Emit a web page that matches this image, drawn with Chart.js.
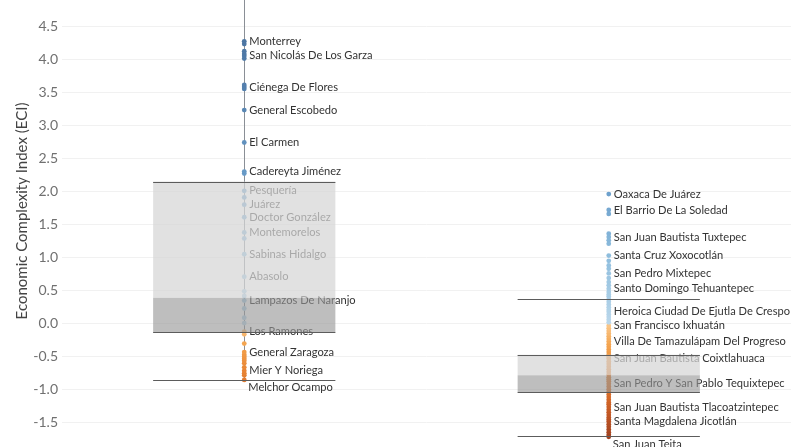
<!DOCTYPE html>
<html>
<head>
<meta charset="utf-8">
<script src="https://cdn.jsdelivr.net/npm/chart.js@4.4.1/dist/chart.umd.min.js"></script>
<style>
  html, body { margin: 0; padding: 0; background: #fff; overflow: hidden; width: 795px; height: 447px; }
  #wrap { position: absolute; left: 0; top: -44px; width: 795px; height: 537px; }
</style>
</head>
<body>
<div id="wrap"><canvas id="ecichart"></canvas></div>
<script>
// Nuevo León (column 1) - labelled municipalities and the remaining points
const nlNames = ['Apodaca', 'Monterrey', 'San Nicolás De Los Garza', 'Ciénega De Flores', 'General Escobedo',
    'El Carmen', 'Cadereyta Jiménez', 'Pesquería', 'Juárez', 'Doctor González', 'Montemorelos',
    'Sabinas Hidalgo', 'Abasolo', 'Lampazos De Naranjo', 'Los Ramones', 'General Zaragoza',
    'Mier Y Noriega', 'Melchor Ocampo'];
const nlValues = [4.98, 4.27, 4.05, 3.58, 3.23, 2.74, 2.30, 2.01, 1.80, 1.61, 1.38, 1.05, 0.71, 0.35,
    -0.12, -0.43, -0.71, -0.85];
const nlOther = [4.23, 4.12, 4.08, 4.01, 3.61, 3.55, 2.27, 1.91, 1.29, 0.49, 0.42, 0.23, 0.09, 0.01,
    -0.16, -0.30, -0.47, -0.50, -0.53, -0.56, -0.60, -0.66, -0.75, -0.78];

// Oaxaca (column 2)
const oaxNames = ['Oaxaca De Juárez', 'El Barrio De La Soledad', 'San Juan Bautista Tuxtepec',
    'Santa Cruz Xoxocotlán', 'San Pedro Mixtepec', 'Santo Domingo Tehuantepec',
    'Heroica Ciudad De Ejutla De Crespo', 'San Francisco Ixhuatán', 'Villa De Tamazulápam Del Progreso',
    'San Juan Bautista Coixtlahuaca', 'San Pedro Y San Pablo Tequixtepec',
    'San Juan Bautista Tlacoatzintepec', 'Santa Magdalena Jicotlán', 'San Juan Teita'];
const oaxValues = [1.96, 1.72, 1.31, 1.03, 0.76, 0.53, 0.18, -0.03, -0.27, -0.53, -0.91, -1.26, -1.48, -1.71];
const oaxOther = [1.66, 1.36, 1.26, 1.21, 0.95, 0.88, 0.83, 0.69, 0.63, 0.58, 0.48, 0.44, 0.41, 0.37,
    0.33, 0.29, 0.25, 0.21, 0.14, 0.10, 0.06, 0.02, -0.07, -0.11, -0.15, -0.19, -0.23, -0.31, -0.35,
    -0.39, -0.43, -0.47, -0.50, -0.57, -0.61, -0.65, -0.69, -0.73, -0.77, -0.81, -0.84, -0.87, -0.95,
    -0.99, -1.03, -1.07, -1.11, -1.15, -1.19, -1.22, -1.30, -1.34, -1.38, -1.42, -1.45, -1.52, -1.56,
    -1.60, -1.64, -1.68];

// box plot stats: upper whisker, Q3, median, Q1, lower whisker
const nlBox = [5.3, 2.15, 0.39, -0.13, -0.85];
const oaxBox = [0.38, -0.47, -0.78, -1.04, -1.70];

const yTicks = { min: -2.5, max: 5.5, step: 0.5 };

const posStops = [[0, [187, 216, 235]], [1, [143, 190, 222]], [2, [108, 160, 204]], [3.5, [85, 129, 175]], [5, [68, 108, 152]]];
const negStops = [[0, [250, 200, 140]], [0.3, [244, 165, 80]], [0.7, [232, 133, 52]], [1.1, [214, 106, 40]], [1.4, [190, 84, 36]], [1.75, [156, 64, 32]]];

function eciColor(v) {
    const stops = v >= 0 ? posStops : negStops;
    const a = Math.abs(v);
    for (let i = 1; i < stops.length; i++) {
        if (a <= stops[i][0] || i === stops.length - 1) {
            const [a0, c0] = stops[i - 1], [a1, c1] = stops[i];
            const t = Math.max(0, Math.min(1, (a - a0) / (a1 - a0)));
            const c = c0.map((x, k) => Math.round(x + (c1[k] - x) * t));
            return `rgb(${c[0]},${c[1]},${c[2]})`;
        }
    }
}

const columns = [
    { x: 1, names: nlNames, values: nlValues, other: nlOther, box: nlBox },
    { x: 2, names: oaxNames, values: oaxValues, other: oaxOther, box: oaxBox }
];
const boxHalf = 0.25;

const boxPlugin = {
    id: 'boxPlugin',
    beforeDatasetsDraw: (chart) => {
        const { ctx, scales: { x, y } } = chart;
        ctx.save();
        ctx.strokeStyle = '#8a8f96';
        ctx.lineWidth = 1;
        columns.forEach(col => {
            const px = Math.round(x.getPixelForValue(col.x)) + 0.5;
            ctx.beginPath();
            ctx.moveTo(px, y.getPixelForValue(col.box[0]));
            ctx.lineTo(px, y.getPixelForValue(col.box[4]));
            ctx.stroke();
        });
        ctx.restore();
    },
    afterDatasetsDraw: (chart) => {
        const { ctx, scales: { x, y } } = chart;
        ctx.save();
        // point labels
        ctx.font = '11.1px Lato';
        ctx.fillStyle = '#333333';
        ctx.textAlign = 'left';
        columns.forEach(col => {
            const px = x.getPixelForValue(col.x);
            col.names.forEach((name, i) => {
                const py = y.getPixelForValue(col.values[i]);
                if (i === col.names.length - 1) {
                    ctx.textBaseline = 'top';
                    ctx.fillText(name, px + 4, py + 2);
                } else {
                    ctx.textBaseline = 'middle';
                    ctx.fillText(name, px + 5, py);
                }
            });
        });
        // boxes
        columns.forEach(col => {
            const l = x.getPixelForValue(col.x - boxHalf), r = x.getPixelForValue(col.x + boxHalf);
            const [uw, q3, med, q1, lw] = col.box.map(v => y.getPixelForValue(v));
            ctx.fillStyle = 'rgba(214,214,214,0.72)';
            ctx.fillRect(l, q3, r - l, med - q3);
            ctx.fillStyle = 'rgba(150,150,150,0.62)';
            ctx.fillRect(l, med, r - l, q1 - med);
            ctx.strokeStyle = '#5c5c5c';
            ctx.lineWidth = 1;
            [uw, q3, q1, lw].forEach(py => {
                const yy = Math.round(py) + 0.5;
                ctx.beginPath();
                ctx.moveTo(l, yy);
                ctx.lineTo(r, yy);
                ctx.stroke();
            });
        });
        ctx.restore();
    },
    afterDraw: (chart) => {
        const { ctx } = chart;
        ctx.save();
        ctx.translate(22, 255);
        ctx.rotate(-Math.PI / 2);
        ctx.font = '15px Lato';
        ctx.fillStyle = '#444444';
        ctx.textAlign = 'center';
        ctx.textBaseline = 'middle';
        ctx.fillText('Economic Complexity Index (ECI)', 0, 0);
        ctx.restore();
    }
};

const datasets = columns.map(col => ({
    data: col.values.concat(col.other).sort((a, b) => a - b).map(v => ({ x: col.x, y: v })),
    pointRadius: 2.4,
    pointBorderWidth: 0,
    pointBackgroundColor: (c) => eciColor(c.raw ? c.raw.y : 0),
    showLine: false
}));

new Chart(document.getElementById('ecichart'), {
    type: 'scatter',
    data: { datasets: datasets },
    options: {
        responsive: true,
        maintainAspectRatio: false,
        animation: false,
        layout: { padding: 0 },
        scales: {
            x: { type: 'linear', min: 0.5, max: 2.5, display: false },
            y: {
                min: yTicks.min, max: yTicks.max,
                grid: { color: '#f1f1f1', drawTicks: false },
                border: { display: false },
                ticks: {
                    stepSize: yTicks.step,
                    padding: 4,
                    color: '#707070',
                    font: { family: 'Lato', size: 14 },
                    callback: (v) => v.toFixed(1)
                },
                afterFit: (scale) => { scale.width = 62; scale.paddingTop = 0; scale.paddingBottom = 0; }
            }
        },
        plugins: { legend: { display: false }, tooltip: { enabled: false } }
    },
    plugins: [boxPlugin]
});
</script>
</body>
</html>
